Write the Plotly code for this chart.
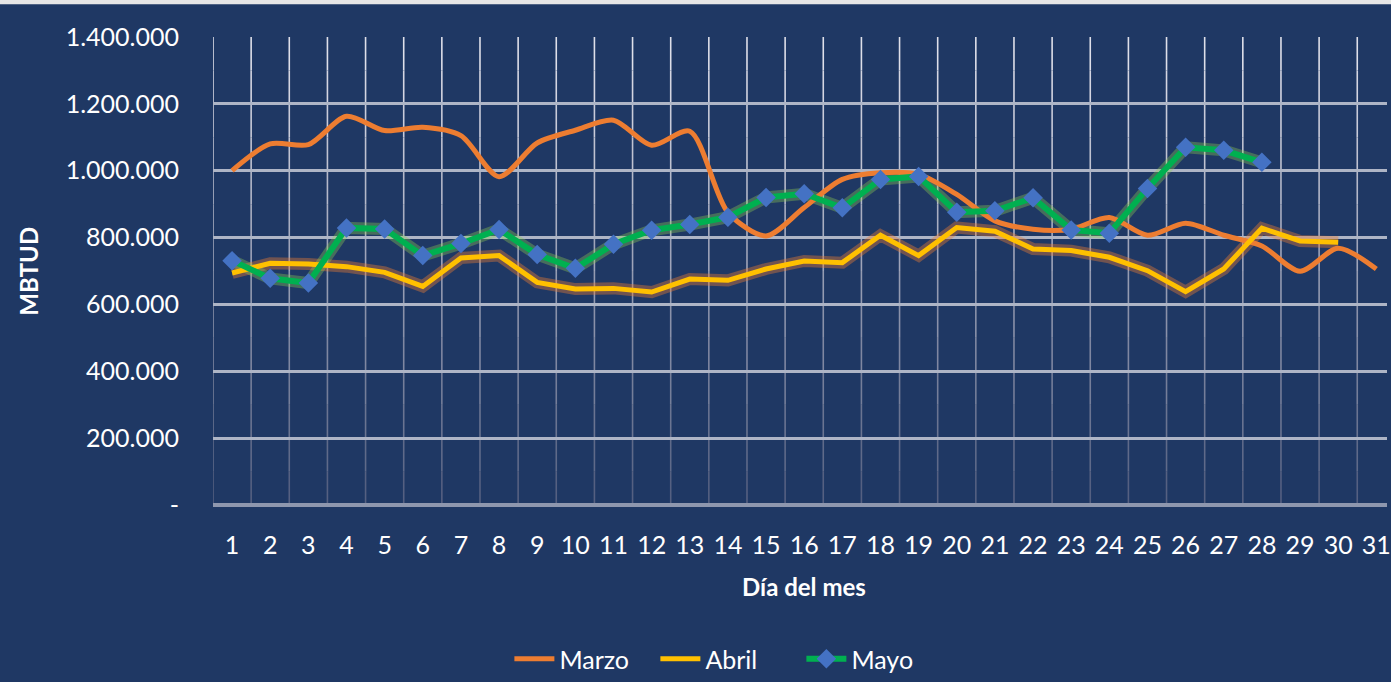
import plotly.graph_objects as go

dias = list(range(1, 32))
marzo = [1000000, 1080000, 1078000, 1163000, 1120000, 1130000, 1105000, 982000, 1083000, 1121000,
         1151000, 1076000, 1118000, 875000, 805000, 890000, 974000, 994000, 989000, 929000,
         850000, 825000, 825000, 860000, 807000, 843000, 807000, 775000, 699000, 768000, 706000]
abril = [694000, 723000, 721000, 713000, 696000, 654000, 739000, 746000, 666000, 646000,
         648000, 637000, 676000, 672000, 706000, 730000, 725000, 807000, 746000, 830000,
         819000, 766000, 761000, 741000, 701000, 638000, 706000, 828000, 790000, 786000]
mayo = [731000, 678000, 664000, 829000, 826000, 746000, 782000, 824000, 749000, 708000,
        780000, 822000, 839000, 861000, 920000, 931000, 889000, 974000, 983000, 876000,
        880000, 919000, 823000, 813000, 947000, 1070000, 1061000, 1025000]

y_tick_vals = [0, 200000, 400000, 600000, 800000, 1000000, 1200000, 1400000]
y_tick_text = ["-", "200.000", "400.000", "600.000", "800.000", "1.000.000", "1.200.000", "1.400.000"]

BG = "#1F3864"
FONT = "Lato"

fig = go.Figure()

# glow layers
fig.add_trace(go.Scatter(x=dias[:len(abril)], y=abril, mode="lines",
                         line=dict(color="rgba(237,125,49,0.4)", width=12),
                         showlegend=False, hoverinfo="skip"))
fig.add_trace(go.Scatter(x=dias[:len(mayo)], y=mayo, mode="lines",
                         line=dict(color="rgba(146,208,80,0.35)", width=12),
                         showlegend=False, hoverinfo="skip"))

fig.add_trace(go.Scatter(x=dias[:len(marzo)], y=marzo, mode="lines", name="Marzo",
                         line=dict(color="#ED7D31", width=5, shape="spline", smoothing=0.8)))
fig.add_trace(go.Scatter(x=dias[:len(abril)], y=abril, mode="lines", name="Abril",
                         line=dict(color="#FFC000", width=5)))
fig.add_trace(go.Scatter(x=dias[:len(mayo)], y=mayo, mode="lines+markers", name="Mayo",
                         line=dict(color="#00B050", width=6),
                         marker=dict(symbol="diamond", size=15, color="#4472C4")))

# gradient vertical gridlines (category boundaries)
shapes = []
nseg = 14
for k in range(32):
    xv = k + 0.5
    for s in range(nseg):
        t = (s + 0.5) / nseg
        r = int(80 + (228 - 80) * t)
        g = int(92 + (228 - 92) * t)
        b = int(125 + (238 - 125) * t)
        shapes.append(dict(type="line", xref="x", yref="paper", x0=xv, x1=xv,
                           y0=s / nseg, y1=(s + 1) / nseg, layer="below",
                           line=dict(color=f"rgb({r},{g},{b})", width=1.6)))
# top light band
shapes.append(dict(type="rect", xref="paper", yref="paper", x0=-0.2, x1=1.05,
                   y0=1 + 33 / 470, y1=1 + 40 / 470, fillcolor="#E6E6E6", line=dict(width=0)))
fig.update_layout(shapes=shapes)

fig.update_layout(
    width=1391, height=682,
    margin=dict(l=213, r=0, t=37, b=175),
    paper_bgcolor=BG, plot_bgcolor=BG,
    font=dict(family=FONT, color="white", size=25),
    showlegend=True,
    legend=dict(orientation="h", x=0.439, xanchor="center", y=-0.33, yanchor="middle",
                font=dict(size=25, color="white"), bgcolor="rgba(0,0,0,0)",
                itemwidth=40, tracegroupgap=0, entrywidth=91, entrywidthmode="pixels"),
    xaxis=dict(range=[0.5, 31.28], tickmode="array", tickvals=dias,
               ticktext=[str(d) for d in dias], showgrid=False, zeroline=False,
               showline=False, ticks="", ticklabelstandoff=23, ticklabeloverflow="allow",
               tickfont=dict(size=25, color="white", family=FONT)),
    yaxis=dict(range=[0, 1400000], tickmode="array", tickvals=y_tick_vals,
               ticktext=y_tick_text, showgrid=True, gridcolor="#AEB5C6", gridwidth=3,
               zeroline=True, zerolinecolor="#8E97AE", zerolinewidth=4,
               showline=False, ticks="", ticklabelstandoff=33,
               tickfont=dict(size=25, color="white", family=FONT)),
    annotations=[
        dict(text="<b>Día del mes</b>", xref="paper", yref="paper", x=(806 - 213) / 1178,
             y=(507 - 589) / 470, xanchor="center", yanchor="middle", showarrow=False,
             font=dict(size=24, color="white", family=FONT)),
        dict(text="<b>MBTUD</b>", xref="paper", yref="paper", x=(27 - 213) / 1178,
             y=0.5, xanchor="center", yanchor="middle", showarrow=False, textangle=-90,
             font=dict(size=24, color="white", family=FONT)),
    ],
)

fig.write_html("out.html", config={"displayModeBar": False},
               post_script="document.body.style.margin='0';document.body.style.padding='0';")
